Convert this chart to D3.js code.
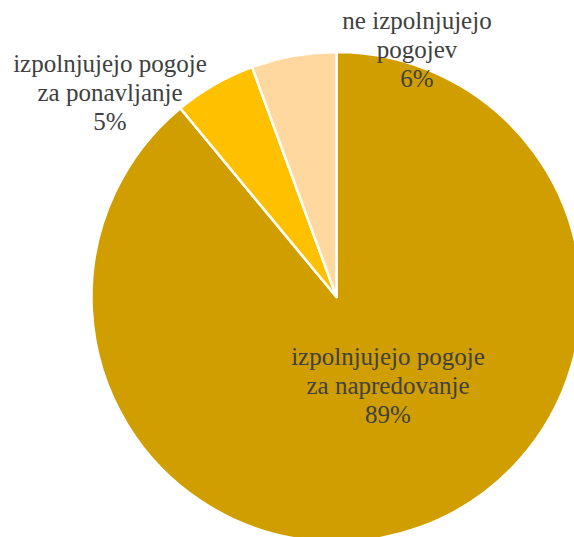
<!DOCTYPE html>
<html>
<head>
<meta charset="utf-8">
<script src="https://cdn.jsdelivr.net/npm/d3@7"></script>
<style>
  body { margin: 0; background: #fff; }
  svg { display: block; }
</style>
</head>
<body>
<div id="chart"></div>
<script>
// categories and values
let categories = ["izpolnjujejo pogoje za napredovanje", "izpolnjujejo pogoje za ponavljanje", "ne izpolnjujejo pogojev"];
let values = [89.0, 5.4, 5.6];
let percentLabels = ["89%", "5%", "6%"];
let labelLines = [
    ["izpolnjujejo pogoje", "za napredovanje"],
    ["izpolnjujejo pogoje", "za ponavljanje"],
    ["ne izpolnjujejo", "pogojev"],
];
let colors = ["#D19E00", "#FFC000", "#FFD8A0"];

let width = 574, height = 537;
let cx = 336.5, cy = 297, radius = 245;
// label anchors relative to the pie center (dx, baseline dy of the first line)
let labelPos = [[51.5, 68], [-226.5, -225], [80.5, -268]];
let lineH = 29;

let svg = d3.select("#chart").append("svg")
    .attr("width", width)
    .attr("height", height);

let pie = d3.pie().sort(null).value(d => d);
let arcs = pie(values);
let arc = d3.arc().innerRadius(0).outerRadius(radius);

let g = svg.append("g").attr("transform", `translate(${cx}, ${cy})`);
g.selectAll("path")
    .data(arcs)
    .enter().append("path")
    .attr("d", arc)
    .attr("fill", (d, i) => colors[i])
    .attr("stroke", "#fff")
    .attr("stroke-width", 2.5)
    .attr("stroke-linejoin", "round");

arcs.forEach((d, i) => {
    let lines = labelLines[i].concat([percentLabels[i]]);
    lines.forEach((s, k) => {
        g.append("text")
            .attr("x", labelPos[i][0])
            .attr("y", labelPos[i][1] + k * lineH)
            .attr("text-anchor", "middle")
            .attr("font-family", "Liberation Serif, Times New Roman, serif")
            .attr("font-size", 25)
            .attr("fill", "#404040")
            .text(s);
    });
});
</script>
</body>
</html>
